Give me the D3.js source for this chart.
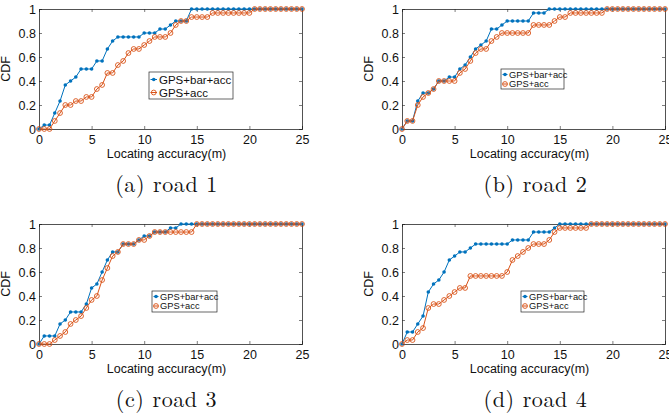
<!DOCTYPE html>
<html><head><meta charset="utf-8">
<script src="https://cdn.jsdelivr.net/npm/d3@7"></script>
<style>
html,body{margin:0;padding:0;background:#fff;overflow:hidden;}
svg{display:block;}
</style></head>
<body>
<svg id="chart" width="669" height="415"></svg>
<script>
const accuracy = [0,0.5,1,1.5,2,2.5,3,3.5,4,4.5,5,5.5,6,6.5,7,7.5,8,8.5,9,9.5,10,10.5,11,11.5,12,12.5,13,13.5,14,14.5,15,15.5,16,16.5,17,17.5,18,18.5,19,19.5,20,20.5,21,21.5,22,22.5,23,23.5,24,24.5,25];
const xTicks = [0,5,10,15,20,25];
const yTicks = [0,0.2,0.4,0.6,0.8,1];
const yTickLabels = ["0","0.2","0.4","0.6","0.8","1"];
const seriesNames = ["GPS+bar+acc","GPS+acc"];
const captions = ["(a) road 1","(b) road 2","(c) road 3","(d) road 4"];

const road1Bar = [0,.033,.033,.133,.233,.367,.4,.433,.5,.5,.5,.567,.567,.667,.733,.767,.767,.767,.767,.767,.8,.8,.8,.833,.833,.867,.9,.9,.9,1,1,1,1,1,1,1,1,1,1,1,1,1,1,1,1,1,1,1,1,1,1];
const road1Acc = [0,0,0,.067,.133,.2,.2,.233,.233,.267,.267,.333,.367,.467,.467,.533,.567,.633,.667,.667,.7,.733,.767,.767,.767,.8,.867,.9,.9,.933,.933,.933,.933,.967,.967,.967,.967,.967,.967,.967,.967,1,1,1,1,1,1,1,1,1,1];
const road2Bar = [0,.067,.067,.233,.3,.3,.333,.4,.4,.433,.433,.5,.533,.6,.667,.7,.733,.833,.833,.867,.9,.9,.9,.9,.9,.967,.967,.967,1,1,1,1,1,1,1,1,1,1,1,1,1,1,1,1,1,1,1,1,1,1,1];
const road2Acc = [0,.067,.067,.2,.267,.3,.333,.4,.4,.4,.4,.467,.5,.567,.633,.667,.667,.733,.767,.8,.8,.8,.8,.8,.8,.867,.867,.867,.867,.9,.933,.933,.967,.967,.967,.967,.967,.967,.967,1,1,1,1,1,1,1,1,1,1,1,1];
const road3Bar = [0,.067,.067,.067,.167,.2,.267,.267,.267,.333,.467,.5,.6,.7,.767,.767,.833,.833,.833,.867,.9,.9,.933,.933,.933,.967,.967,1,1,1,1,1,1,1,1,1,1,1,1,1,1,1,1,1,1,1,1,1,1,1,1];
const road3Acc = [0,0,0,.033,.067,.1,.167,.2,.233,.3,.367,.4,.533,.633,.733,.767,.833,.833,.833,.867,.867,.9,.933,.933,.933,.933,.933,.933,.933,.933,1,1,1,1,1,1,1,1,1,1,1,1,1,1,1,1,1,1,1,1,1];
const road4Bar = [0,.1,.1,.167,.233,.433,.5,.533,.6,.7,.733,.767,.767,.8,.833,.833,.833,.833,.833,.833,.833,.867,.867,.867,.867,.933,.933,.933,.933,.967,1,1,1,1,1,1,1,1,1,1,1,1,1,1,1,1,1,1,1,1,1];
const road4Acc = [0,.033,.033,.1,.133,.3,.333,.333,.367,.4,.433,.467,.467,.567,.567,.567,.567,.567,.567,.567,.6,.7,.733,.767,.8,.833,.833,.833,.867,.933,.967,.967,.967,.967,.967,.967,1,1,1,1,1,1,1,1,1,1,1,1,1,1,1];

const panels = [
  {bar: road1Bar, acc: road1Acc, cap: captions[0]},
  {bar: road2Bar, acc: road2Acc, cap: captions[1]},
  {bar: road3Bar, acc: road3Acc, cap: captions[2]},
  {bar: road4Bar, acc: road4Acc, cap: captions[3]}
];

// layout
const layout = [
  {left:39, top:9, leg:{x:149,y:72,w:84,h:27,fs:11.5,big:true}},
  {left:402, top:9, leg:{x:501,y:69,w:63,h:20,fs:9.3,big:false}},
  {left:39, top:224, leg:{x:152,y:291,w:65,h:21,fs:9.3,big:false}},
  {left:402, top:224, leg:{x:521,y:291,w:63,h:21,fs:9.3,big:false}}
];
const W = 263, H = 120;
const blue = "#0072BD", orange = "#D95319", axisCol = "#262626";
const sans = "Liberation Sans, Arial, Helvetica, sans-serif";

const svg = d3.select("#chart");

panels.forEach((p, i) => {
  const L = layout[i];
  const g = svg.append("g").attr("transform", `translate(${L.left},${L.top})`);
  const x = d3.scaleLinear().domain([0,25]).range([0,W]);
  const y = d3.scaleLinear().domain([0,1]).range([H,0]);

  // axes with inward ticks
  const ax = d3.axisBottom(x).tickValues(xTicks).tickSize(-3).tickPadding(6).tickFormat(d3.format("d"));
  const ay = d3.axisLeft(y).tickValues(yTicks).tickSize(-3).tickPadding(3).tickFormat((d,j)=>yTickLabels[j]);
  const axTop = d3.axisTop(x).tickValues(xTicks).tickSize(-3).tickFormat("");
  const ayRight = d3.axisRight(y).tickValues(yTicks).tickSize(-3).tickFormat("");

  const gx = g.append("g").attr("transform", `translate(0,${H})`).call(ax);
  const gy = g.append("g").call(ay);
  const gt = g.append("g").call(axTop);
  const gr = g.append("g").attr("transform", `translate(${W},0)`).call(ayRight);
  [gx,gy,gt,gr].forEach(a => {
    a.select(".domain").attr("stroke", axisCol).attr("stroke-width", 0.8);
    a.selectAll(".tick line").attr("stroke", axisCol).attr("stroke-width", 0.6);
    a.selectAll("text").attr("fill", "#111").style("font-family", sans).style("font-size", "12.5px");
  });
  gx.selectAll("text").attr("dy", "0.71em");

  // axis titles
  g.append("text").attr("x", W/2 - 4).attr("y", H + 29)
    .attr("text-anchor","middle").style("font-family", sans).style("font-size","12.5px").attr("fill","#111")
    .text("Locating accuracy(m)");
  g.append("text").attr("transform", `translate(${-29},${H/2}) rotate(-90)`)
    .attr("text-anchor","middle").style("font-family", sans).style("font-size","12.5px").attr("fill","#111")
    .text("CDF");

  const line = d3.line().x((d,j)=>x(accuracy[j])).y(d=>y(d));

  // blue series
  g.append("path").datum(p.bar).attr("d", line).attr("fill","none").attr("stroke", blue).attr("stroke-width",1);
  g.selectAll(".bdot").data(p.bar).enter().append("circle")
    .attr("cx",(d,j)=>x(accuracy[j])).attr("cy",d=>y(d)).attr("r",1.8).attr("fill",blue);

  // orange series
  g.append("path").datum(p.acc).attr("d", line).attr("fill","none").attr("stroke", orange).attr("stroke-width",1);
  g.selectAll(".odot").data(p.acc).enter().append("circle")
    .attr("cx",(d,j)=>x(accuracy[j])).attr("cy",d=>y(d)).attr("r",2.4)
    .attr("fill","none").attr("stroke",orange).attr("stroke-width",0.9);

  // legend
  const lg = L.leg;
  const leg = svg.append("g").attr("transform", `translate(${lg.x},${lg.y})`);
  leg.append("rect").attr("width", lg.w).attr("height", lg.h).attr("fill","#fff")
    .attr("stroke", axisCol).attr("stroke-width",0.7);
  const rowY = lg.big ? [7.5, 20.5] : [5.5, 15];
  const mx0 = 1.5, mx1 = lg.big ? 8 : 6.5;
  const tx = lg.big ? 10 : 8;
  seriesNames.forEach((nm, k) => {
    const col = k === 0 ? blue : orange;
    leg.append("line").attr("x1",mx0).attr("x2",mx1).attr("y1",rowY[k]).attr("y2",rowY[k])
      .attr("stroke",col).attr("stroke-width",1);
    if (k === 0) {
      leg.append("circle").attr("cx",(mx0+mx1)/2).attr("cy",rowY[k]).attr("r",1.8).attr("fill",col);
    } else {
      leg.append("circle").attr("cx",(mx0+mx1)/2).attr("cy",rowY[k]).attr("r",2.4)
        .attr("fill","none").attr("stroke",col).attr("stroke-width",0.9);
    }
    leg.append("text").attr("x",tx).attr("y",rowY[k]).attr("dy","0.35em")
      .style("font-family", sans).style("font-size", lg.fs+"px").attr("fill","#111").text(nm);
  });

  // caption
  svg.append("text").attr("x", L.left + W/2 + 2 - (i%2===0 ? 6 : 0)).attr("y", L.top + 183)
    .attr("text-anchor","middle")
    .style("font-family","Latin Modern Roman, DejaVu Serif, serif").style("font-size","22px")
    .style("letter-spacing","0.6px")
    .attr("fill","#111").text(p.cap);
});
</script>
</body></html>
